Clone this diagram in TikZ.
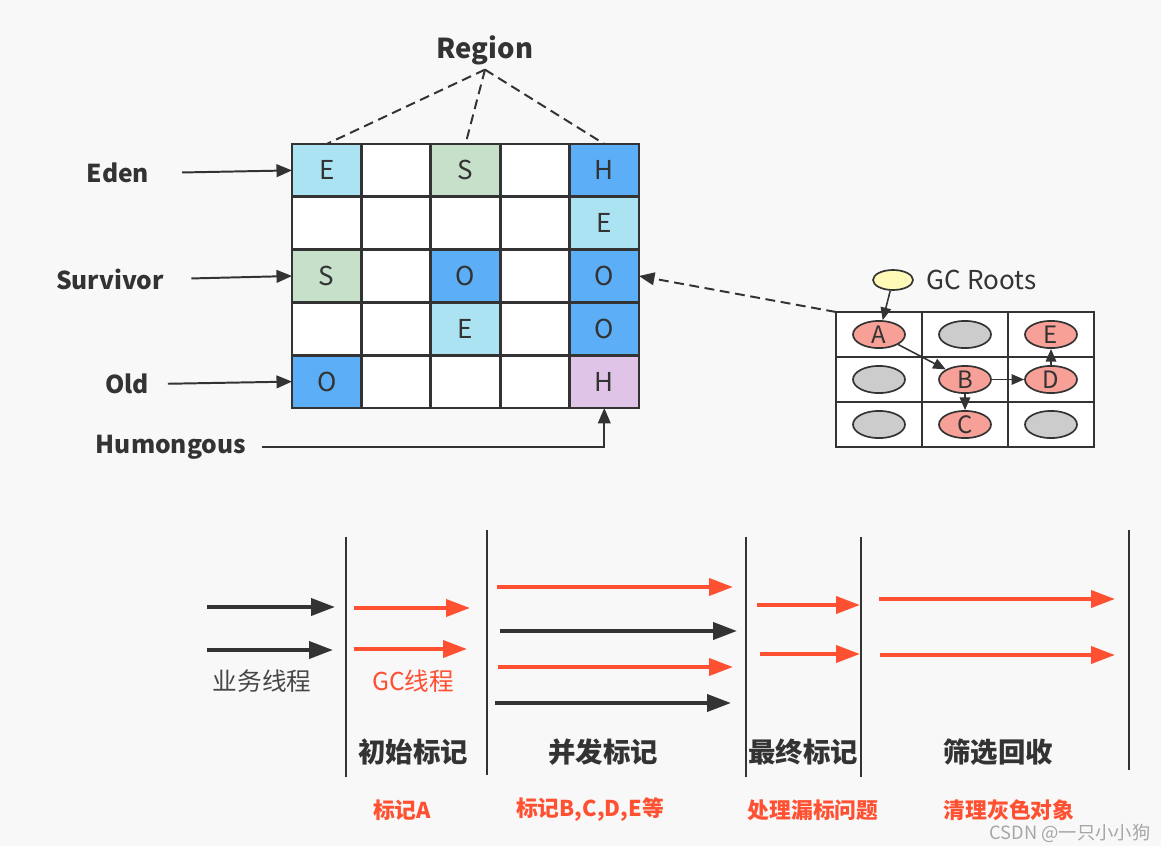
\documentclass[tikz,border=0pt]{standalone}
\usepackage{fontspec}
\setmainfont{Noto Sans CJK SC}
\usetikzlibrary{arrows.meta, shapes.geometric}
\definecolor{bgcol}{HTML}{F8F8F8}
\definecolor{edencol}{HTML}{ABE3F2}
\definecolor{survcol}{HTML}{C7E0C9}
\definecolor{oldcol}{HTML}{5CAEF6}
\definecolor{humcol}{HTML}{E0C4E8}
\definecolor{markcol}{HTML}{F7A097}
\definecolor{idlecol}{HTML}{CCCCCC}
\definecolor{rootcol}{HTML}{FFFAB8}
\definecolor{gcred}{HTML}{FF5032}
\definecolor{ink}{HTML}{333333}

\begin{document}
\begin{tikzpicture}[x=0.025cm, y=-0.025cm,
    cell/.style={draw=ink, line width=2pt, fill=white, minimum width=1.735cm,
      minimum height=1.32cm, inner sep=0pt, outer sep=0pt, text=ink,
      font=\fontsize{18.5}{20}\selectfont},
    smallcell/.style={draw=ink, line width=1.6pt, fill=white, minimum width=2.15cm,
      minimum height=1.125cm, inner sep=0pt, outer sep=0pt},
    obj/.style={ellipse, draw=ink, line width=1.2pt, minimum width=1.3cm,
      minimum height=0.68cm, inner sep=0pt, text=ink, font=\fontsize{17}{18}\selectfont},
    area/.style={text=ink, font=\bfseries\fontsize{17.5}{19}\selectfont},
    thin arrow/.style={draw=ink, line width=1.4pt, -{Triangle[length=11pt,width=9pt]}},
    ref arrow/.style={draw=ink, line width=1.1pt, -{Triangle[length=9pt,width=7.5pt]}},
    thread/.style={line width=2.8pt, -{Triangle[length=17pt,width=12pt]}},
    phase/.style={draw=ink, line width=1.5pt},
    stage/.style={text=ink, font=\bfseries\fontsize{19.5}{21}\selectfont},
    note/.style={text=gcred, font=\bfseries\fontsize{15.5}{17}\selectfont},
  ]
\fill[bgcol] (0,0) rectangle (1161,846);
\useasboundingbox (0,0) rectangle (1161,846);

% region grid
\foreach \r in {0,...,4}
  \foreach \c in {0,...,4}
    \node[cell] (g\r\c) at ({292+69.4*(\c+0.5)},{144+52.8*(\r+0.5)}) {};
\foreach \r/\c/\col/\txt in {0/0/edencol/E, 0/2/survcol/S, 0/4/oldcol/H,
    1/4/edencol/E, 2/0/survcol/S, 2/2/oldcol/O, 2/4/oldcol/O,
    3/2/edencol/E, 3/4/oldcol/O, 4/0/oldcol/O, 4/4/humcol/H}
  \node[cell, fill=\col] at (g\r\c) {\txt};

\node[area, font=\bfseries\fontsize{19.5}{21}\selectfont] (region) at (485,50) {Region};
\foreach \c in {0,2,4}
  \draw[ink, line width=1.4pt, dash pattern=on 7pt off 4pt] (region.south) -- (g0\c.north);

\node[area] (eden) at (118,173) {Eden};
\node[area] (survivor) at (110,279) {Survivor};
\node[area] (old) at (127,384) {Old};
\node[area] (humongous) at (171,447) {Humongous};
\draw[thin arrow, shorten <=20pt] (eden.east) -- (g00.west);
\draw[thin arrow, shorten <=16pt] (survivor.east) -- (g20.west);
\draw[thin arrow, shorten <=10pt] (old.east) -- (g40.west);
\draw[thin arrow, shorten <=8pt] (humongous.east) -| (g44.south);

% gc roots
\foreach \r in {0,1,2}
  \foreach \c in {0,1,2}
    \node[smallcell] (s\r\c) at ({836+86*(\c+0.5)},{312+45*(\r+0.5)}) {};
\node[obj, fill=markcol] (A) at (s00) {A};
\node[obj, fill=idlecol] at (s01) {};
\node[obj, fill=markcol] (E) at (s02) {E};
\node[obj, fill=idlecol] at (s10) {};
\node[obj, fill=markcol] (B) at (s11) {B};
\node[obj, fill=markcol] (D) at (s12) {D};
\node[obj, fill=idlecol] at (s20) {};
\node[obj, fill=markcol] (C) at (s21) {C};
\node[obj, fill=idlecol] at (s22) {};
\node[ellipse, draw=ink, line width=1.2pt, fill=rootcol, minimum width=1cm,
  minimum height=0.5cm] (root) at (893,280) {};
\node[text=ink, font=\fontsize{18.5}{20}\selectfont, anchor=west] (roots) at (922,280) {GC Roots};
\draw[ref arrow] (root) -- (A);
\draw[ref arrow] (A) -- (B);
\draw[ref arrow] (B) -- (C);
\draw[ref arrow] (B) -- (D);
\draw[ref arrow] (D) -- (E);
\draw[draw=ink, line width=1.4pt, dash pattern=on 7pt off 4pt,
  -{Triangle[length=11pt,width=9pt]}] (s00.north west) -- (g24.east);

% phases
\draw[phase] (346,537) -- (346,777);
\draw[phase] (487,530) -- (487,775);
\draw[phase] (746,537) -- (746,777);
\draw[phase] (861,537) -- (861,777);
\draw[phase] (1129,530) -- (1129,770);

\draw[thread, ink] (207,607) -- (335,607);
\draw[thread, ink] (207,650) -- (333,650);
\draw[thread, gcred] (354,608) -- (470,608);
\draw[thread, gcred] (354,649) -- (467,649);
\draw[thread, gcred] (497,587) -- (733,587);
\draw[thread, ink] (500,631) -- (737,631);
\draw[thread, gcred] (498,667) -- (733,667);
\draw[thread, ink] (495,703) -- (731,703);
\draw[thread, gcred] (757,605) -- (860,605);
\draw[thread, gcred] (760,654) -- (860,654);
\draw[thread, gcred] (879,599) -- (1115,599);
\draw[thread, gcred] (880,655) -- (1115,655);

\node[text=ink!90, font=\fontsize{17.5}{19}\selectfont] (app) at (262,681) {业务线程};
\node[text=gcred, font=\fontsize{17.5}{19}\selectfont] (gc) at (413,681) {GC线程};

\node[stage] (init) at (413,752) {初始标记};
\node[stage] (conc) at (603,752) {并发标记};
\node[stage] (final) at (803,752) {最终标记};
\node[stage] (clean) at (998,752) {筛选回收};

\node[note] (initnote) at (402,810) {标记A};
\node[note] (concnote) at (590,810) {标记B,C,D,E等};
\node[note] (finalnote) at (813,810) {处理漏标问题};
\node[note] (cleannote) at (1009,810) {清理灰色对象};

\node[text=black!35, font=\fontsize{13}{14}\selectfont, inner sep=1pt] (mark) at (1070,833) {CSDN @一只小小狗};
\end{tikzpicture}
\end{document}
